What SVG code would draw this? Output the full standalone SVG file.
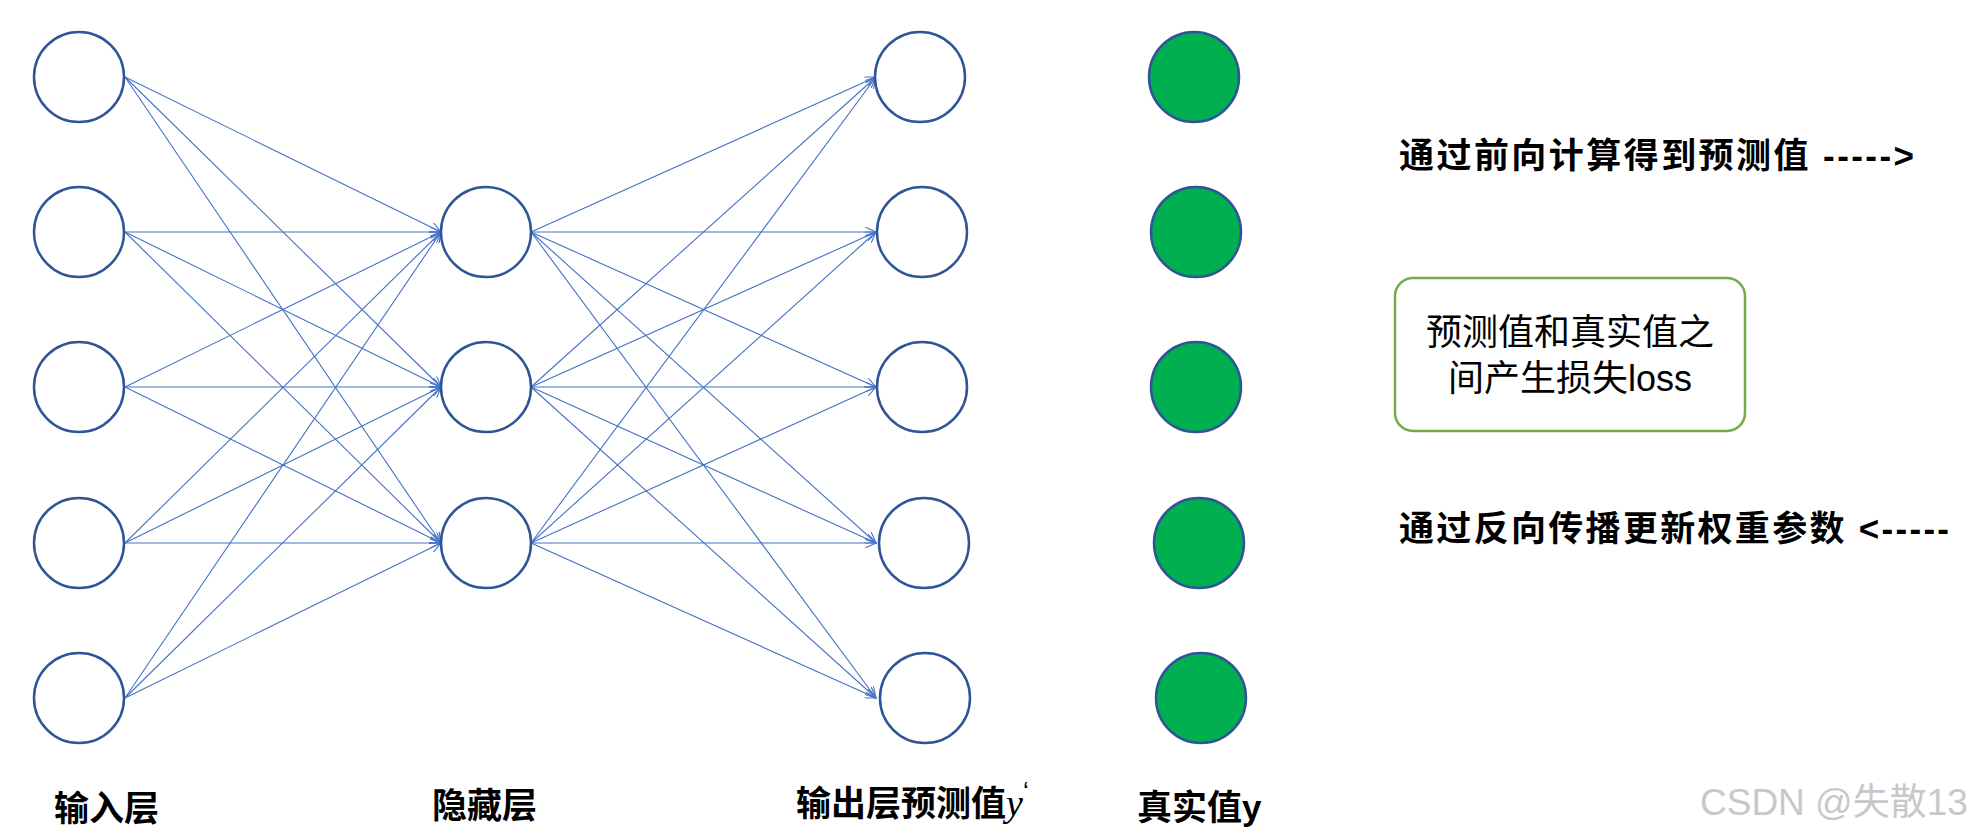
<svg xmlns="http://www.w3.org/2000/svg" width="1974" height="838" viewBox="0 0 1974 838">
<style>
.n{fill:#fff;stroke:#2F5597;stroke-width:2.5}
.g{fill:#00B050;stroke:#2F5597;stroke-width:2.5}
.c line{stroke:#4472C4;stroke-width:1.1;marker-end:url(#a)}
.b{font-family:"Liberation Sans","Noto Sans CJK SC",sans-serif;font-weight:bold;font-size:35px;fill:#000}
.t{font-family:"Liberation Sans","Noto Sans CJK SC",sans-serif;font-size:36px;fill:#000}
</style>
<defs><marker id="a" markerWidth="12" markerHeight="10" refX="11" refY="5" orient="auto" markerUnits="userSpaceOnUse"><path d="M0,0 L11,5 L0,10" fill="none" stroke="#4472C4" stroke-width="1.1"/></marker></defs>
<g class="c" id="connectors">
<line x1="125" y1="77" x2="441" y2="232"/><line x1="125" y1="77" x2="441" y2="387"/><line x1="125" y1="77" x2="441" y2="543"/>
<line x1="125" y1="232" x2="441" y2="232"/><line x1="125" y1="232" x2="441" y2="387"/><line x1="125" y1="232" x2="441" y2="543"/>
<line x1="125" y1="387" x2="441" y2="232"/><line x1="125" y1="387" x2="441" y2="387"/><line x1="125" y1="387" x2="441" y2="543"/>
<line x1="125" y1="543" x2="441" y2="232"/><line x1="125" y1="543" x2="441" y2="387"/><line x1="125" y1="543" x2="441" y2="543"/>
<line x1="125" y1="698" x2="441" y2="232"/><line x1="125" y1="698" x2="441" y2="387"/><line x1="125" y1="698" x2="441" y2="543"/>
<line x1="531" y1="232" x2="876" y2="77"/><line x1="531" y1="232" x2="876" y2="232"/><line x1="531" y1="232" x2="876" y2="387"/><line x1="531" y1="232" x2="876" y2="543"/><line x1="531" y1="232" x2="876" y2="698"/>
<line x1="531" y1="387" x2="876" y2="77"/><line x1="531" y1="387" x2="876" y2="232"/><line x1="531" y1="387" x2="876" y2="387"/><line x1="531" y1="387" x2="876" y2="543"/><line x1="531" y1="387" x2="876" y2="698"/>
<line x1="531" y1="543" x2="876" y2="77"/><line x1="531" y1="543" x2="876" y2="232"/><line x1="531" y1="543" x2="876" y2="387"/><line x1="531" y1="543" x2="876" y2="543"/><line x1="531" y1="543" x2="876" y2="698"/>
</g>
<g id="in1"><circle class="n" cx="79" cy="77" r="45"/></g>
<g id="in2"><circle class="n" cx="79" cy="232" r="45"/></g>
<g id="in3"><circle class="n" cx="79" cy="387" r="45"/></g>
<g id="in4"><circle class="n" cx="79" cy="543" r="45"/></g>
<g id="in5"><circle class="n" cx="79" cy="698" r="45"/></g>
<g id="h1"><circle class="n" cx="486" cy="232" r="45"/></g>
<g id="h2"><circle class="n" cx="486" cy="387" r="45"/></g>
<g id="h3"><circle class="n" cx="486" cy="543" r="45"/></g>
<g id="o1"><circle class="n" cx="920" cy="77" r="45"/></g>
<g id="o2"><circle class="n" cx="922" cy="232" r="45"/></g>
<g id="o3"><circle class="n" cx="922" cy="387" r="45"/></g>
<g id="o4"><circle class="n" cx="924" cy="543" r="45"/></g>
<g id="o5"><circle class="n" cx="925" cy="698" r="45"/></g>
<g id="y1"><circle class="g" cx="1194" cy="77" r="45"/></g>
<g id="y2"><circle class="g" cx="1196" cy="232" r="45"/></g>
<g id="y3"><circle class="g" cx="1196" cy="387" r="45"/></g>
<g id="y4"><circle class="g" cx="1199" cy="543" r="45"/></g>
<g id="y5"><circle class="g" cx="1201" cy="698" r="45"/></g>
<g id="loss"><rect x="1395" y="278" width="350" height="153" rx="18" fill="#fff" stroke="#70AD47" stroke-width="2.5"/>
<text class="t" x="1570" y="345" text-anchor="middle">预测值和真实值之</text>
<text class="t" x="1570" y="391" text-anchor="middle">间产生损失loss</text></g>
<text class="b" x="1399" y="168" textLength="515" lengthAdjust="spacing">通过前向计算得到预测值 -----&gt;</text>
<text class="b" x="1399" y="541" textLength="550" lengthAdjust="spacing">通过反向传播更新权重参数 &lt;-----</text>
<text class="b" x="54" y="821">输入层</text>
<text class="b" x="432" y="818">隐藏层</text>
<text class="b" x="796" y="816">输出层预测值<tspan font-family="Liberation Serif" font-style="italic" font-weight="normal" font-size="38">y</tspan><tspan font-size="26" dy="-16" font-weight="normal">‘</tspan></text>
<text class="b" x="1137" y="820">真实值y</text>
<text x="1700" y="815" font-family="Liberation Sans,Noto Sans CJK SC,sans-serif" font-size="37" fill="#C8C8C8">CSDN @失散13</text>
</svg>
